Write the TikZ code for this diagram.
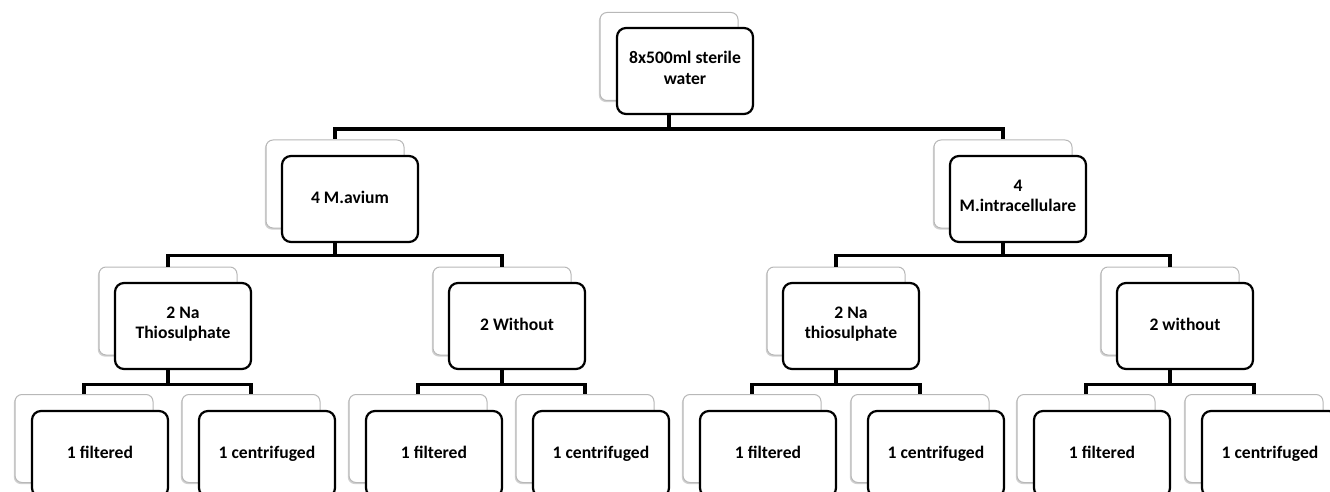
\documentclass[tikz,border=0pt]{standalone}
\usepackage{fontspec}
\setmainfont{Carlito}
\usepackage{tikz}
\usetikzlibrary{shadows}

\tikzset{
  backbox/.style={draw=black!28, line width=1pt, fill=white, rounded corners=7pt,
    minimum width=138pt, minimum height=88pt, inner sep=0pt,
    drop shadow={shadow xshift=-1.2pt, shadow yshift=-1.6pt, fill=black!30, opacity=.6}},
  frontbox/.style={draw=black, line width=2.2pt, fill=white, rounded corners=9pt,
    minimum width=136pt, minimum height=86pt, inner sep=0pt, align=center,
    font=\fontsize{17.6}{20.5}\selectfont\bfseries,
    execute at begin node=\strut, execute at end node=\strut},
  link/.style={draw=black, line width=3.6pt}
}

\begin{document}
\begin{tikzpicture}[x=1pt,y=-1pt]
  \useasboundingbox (0,0) rectangle (1330,492);
  \clip (0,0) rectangle (1330,492);
  % back boxes
  \node[backbox] (water-bk) at (669,56.5) {};
  \node[backbox] (avium-bk) at (335,184) {};
  \node[backbox] (intra-bk) at (1003,184) {};
  \node[backbox] (avNa-bk) at (168,311) {};
  \node[backbox] (avWo-bk) at (502,311) {};
  \node[backbox] (inNa-bk) at (836,311) {};
  \node[backbox] (inWo-bk) at (1170,311) {};
  \node[backbox] (avNaF-bk) at (84,438.5) {};
  \node[backbox] (avNaC-bk) at (251,438.5) {};
  \node[backbox] (avWoF-bk) at (418,438.5) {};
  \node[backbox] (avWoC-bk) at (585,438.5) {};
  \node[backbox] (inNaF-bk) at (752,438.5) {};
  \node[backbox] (inNaC-bk) at (920,438.5) {};
  \node[backbox] (inWoF-bk) at (1086,438.5) {};
  \node[backbox] (inWoC-bk) at (1254,438.5) {};
  % connectors
  \draw[link] (water-bk.south) -- ++(0,28) -| (avium-bk.north);
  \draw[link] (water-bk.south) -- ++(0,28) -| (intra-bk.north);
  \draw[link] (avium-bk.south) -- ++(0,27) -| (avNa-bk.north);
  \draw[link] (avium-bk.south) -- ++(0,27) -| (avWo-bk.north);
  \draw[link] (intra-bk.south) -- ++(0,27) -| (inNa-bk.north);
  \draw[link] (intra-bk.south) -- ++(0,27) -| (inWo-bk.north);
  \draw[link] (avNa-bk.south) -- ++(0,29) -| (avNaF-bk.north);
  \draw[link] (avNa-bk.south) -- ++(0,29) -| (avNaC-bk.north);
  \draw[link] (avWo-bk.south) -- ++(0,29) -| (avWoF-bk.north);
  \draw[link] (avWo-bk.south) -- ++(0,29) -| (avWoC-bk.north);
  \draw[link] (inNa-bk.south) -- ++(0,29) -| (inNaF-bk.north);
  \draw[link] (inNa-bk.south) -- ++(0,29) -| (inNaC-bk.north);
  \draw[link] (inWo-bk.south) -- ++(0,29) -| (inWoF-bk.north);
  \draw[link] (inWo-bk.south) -- ++(0,29) -| (inWoC-bk.north);
  % front boxes
  \node[frontbox] (water) at (685,71) {8x500ml sterile\\water};
  \node[frontbox] (avium) at (350,199) {4 M.avium};
  \node[frontbox] (intra) at (1018,199) {4\\M.intracellulare};
  \node[frontbox] (avNa) at (183,326) {2 Na\\Thiosulphate};
  \node[frontbox] (avWo) at (517,326) {2 Without};
  \node[frontbox] (inNa) at (851,326) {2 Na\\thiosulphate};
  \node[frontbox] (inWo) at (1185,326) {2 without};
  \node[frontbox] (avNaF) at (100,454) {1 filtered};
  \node[frontbox] (avNaC) at (267,454) {1 centrifuged};
  \node[frontbox] (avWoF) at (434,454) {1 filtered};
  \node[frontbox] (avWoC) at (601,454) {1 centrifuged};
  \node[frontbox] (inNaF) at (768,454) {1 filtered};
  \node[frontbox] (inNaC) at (936,454) {1 centrifuged};
  \node[frontbox] (inWoF) at (1102,454) {1 filtered};
  \node[frontbox] (inWoC) at (1270,454) {1 centrifuged};
\end{tikzpicture}
\end{document}
